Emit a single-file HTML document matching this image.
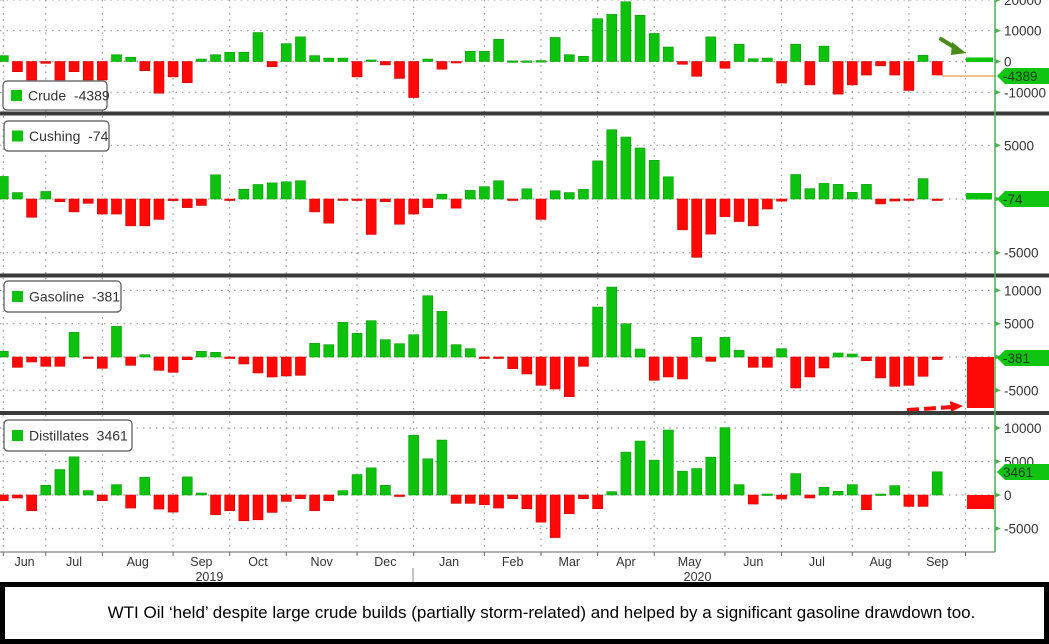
<!DOCTYPE html>
<html><head><meta charset="utf-8">
<style>
html,body{margin:0;padding:0;background:#fff;}
body{width:1049px;height:644px;overflow:hidden;position:relative;font-family:"Liberation Sans",Arial,sans-serif;}
#chart{position:absolute;left:0;top:0;}
.caption{position:absolute;left:0;top:582px;width:1049px;height:62px;box-sizing:border-box;border:5px solid #000;background:#fff;font-size:17px;color:#000;text-align:center;line-height:52px;padding-left:34px;white-space:nowrap;}
</style></head>
<body>
<svg id="chart" width="1049" height="582" xmlns="http://www.w3.org/2000/svg" font-family="Liberation Sans, Arial, sans-serif"></svg>
<div class="caption">WTI Oil ‘held’ despite large crude builds (partially storm-related) and helped by a significant gasoline drawdown too.</div>
<script>
const crude = [1900,-3300,-6000,-600,-6000,-3300,-6000,-6000,2200,1400,-3000,-10300,-5000,-6900,800,2200,3000,3000,9400,-1700,5800,8000,1900,1100,1100,-5000,500,-1100,-5500,-11700,800,-2500,-300,3300,3300,7200,200,200,300,7800,2200,1700,13900,15300,19400,15000,9100,4700,-900,-4800,8000,-2200,5600,900,1100,-7000,5600,-7600,5000,-10600,-7600,-4400,-1400,-4400,-9400,2000,-4389];
const cushing = [2100,600,-1700,700,-250,-1200,-400,-1400,-1400,-2500,-2500,-1900,-150,-800,-600,2250,-100,900,1350,1500,1600,1700,-1200,-2250,-50,-100,-3300,-250,-2350,-1400,-800,450,-850,800,1150,1700,-50,950,-1900,770,600,900,3550,6450,5770,4750,3600,2070,-2870,-5430,-3270,-1640,-2100,-2500,-930,-200,2280,960,1450,1360,620,1360,-460,-190,-30,1900,-74];
const gasoline = [850,-1550,-750,-1400,-1400,3700,-50,-1700,4600,-1250,350,-2000,-2300,-400,850,700,-50,-1050,-2400,-3000,-2850,-2750,2050,1850,5200,3550,5450,2600,2000,3350,9200,6850,1850,1250,-100,-100,-1750,-2550,-4250,-4800,-5950,-1400,7500,10500,5000,1200,-3500,-3000,-3300,2950,-650,2950,1000,-1550,-1550,1250,-4650,-3000,-1650,600,450,-550,-3150,-4400,-4250,-2900,-381];
const distillates = [-850,-450,-2350,1450,3800,5700,650,-850,1550,-1950,2650,-2100,-2550,2700,300,-2950,-2350,-3850,-3700,-2600,-950,-550,-2350,-850,650,3050,4050,1450,-150,8900,5400,8200,-1250,-1250,-1450,-1950,-550,-2050,-4050,-6350,-2800,-550,-2050,500,6400,8050,5200,9700,3550,3950,5650,10050,1550,-1350,150,-600,3200,-450,1150,550,1550,-2200,150,1400,-1700,-1700,3461];
const monthLabels = ["Jun","Jul","Aug","Sep","Oct","Nov","Dec","Jan","Feb","Mar","Apr","May","Jun","Jul","Aug","Sep"];
const monthStarts = [0,3,7,12,16,20,25,29,34,38,42,46,51,55,60,64,68];
const yearLabels = ["2019","2020"];
const yearAtMonth = [3,11];
const crudeTicks = [20000,10000,0,-10000];
const cushingTicks = [5000,0,-5000];
const gasTicks = [10000,5000,0,-5000];
const distTicks = [10000,5000,0,-5000];

const NS = "http://www.w3.org/2000/svg";
const svg = document.getElementById('chart');
function mk(tag, attrs, parent){const e=document.createElementNS(NS,tag);for(const k in attrs)e.setAttribute(k,attrs[k]);(parent||svg).appendChild(e);return e;}
function x(i){return 3.3 + i*14.15;}
function monthMid(k){return (x(monthStarts[k]) + x(monthStarts[k+1]))/2;}
const AXIS_X = 995, BW = 10;
const GREEN = "#0cc20c", RED = "#ff0808";

const panels = [
  {name:"crude", label:"Crude", data:crude, ticks:crudeTicks, zero:61.5, per:30.8/10000, top:0, bottom:112, legend:[3,81,104,29], tagY:76},
  {name:"cushing", label:"Cushing", data:cushing, ticks:cushingTicks, zero:199, per:53.7/5000, top:116, bottom:274, legend:[4,121,105,30], tagY:199},
  {name:"gasoline", label:"Gasoline", data:gasoline, ticks:gasTicks, zero:357, per:33.3/5000, top:278, bottom:411, legend:[4,281,117,31], tagY:358},
  {name:"distillates", label:"Distillates", data:distillates, ticks:distTicks, zero:495, per:33.5/5000, top:415, bottom:552, legend:[4,420,128,31], tagY:472}
];

panels.forEach(p=>{
  const y = v => p.zero - v*p.per;
  const g = mk('g',{});
  
  
  monthStarts.forEach(m=>{
    const gl = mk('line',{x1:x(m),x2:x(m),y1:p.top,y2:p.bottom,stroke:"#999","stroke-width":1.2,"stroke-dasharray":"1.5 5"},g);
    
    
  });
  p.ticks.forEach(t=>{
    const ty = y(t);
    const hl = mk('line',{x1:0,x2:AXIS_X,y1:ty,y2:ty,stroke:"#999","stroke-width":1.2,"stroke-dasharray":"1.5 5"},g);
    
    
    mk('polygon',{points:`${AXIS_X},${ty-2.5} ${AXIS_X+6},${ty} ${AXIS_X},${ty+2.5}`,fill:"#4caf50"},g);
    const tl = mk('text',{x:1004,y:ty+5,"font-size":13.5,fill:"#333"},g);
    tl.textContent = t;
    
    
  });
  p.data.forEach((v,i)=>{
    const y0 = y(0), y1 = y(v);
    const r = mk('rect',{x:x(i)-BW/2,y:Math.min(y0,y1),width:BW,height:Math.max(1.5,Math.abs(y1-y0)),fill:v>=0?GREEN:RED,stroke:v>=0?"#0a9a0a":"#d00000","stroke-width":0.6},g);
    
    
  });
  const [lx,ly,lw,lh] = p.legend;
  const lg = mk('g',{},g);
  
  
  mk('rect',{x:lx,y:ly,width:lw,height:lh,rx:4,fill:"#fff",stroke:"#555","stroke-width":1.2},lg);
  mk('rect',{x:lx+8,y:ly+lh/2-5.5,width:11,height:11,fill:GREEN},lg);
  const lt = mk('text',{x:lx+25,y:ly+lh/2+5,"font-size":14,fill:"#333"},lg);
  lt.textContent = p.label + "  " + p.data[p.data.length-1];
  lt.setAttribute('xml:space','preserve');
  lt.style.whiteSpace='pre';
  const tg = mk('g',{},g);
  
  
  const ty = p.tagY;
  mk('polygon',{points:`${AXIS_X+2},${ty} ${AXIS_X+10},${ty-8} 1049,${ty-8} 1049,${ty+8} ${AXIS_X+10},${ty+8}`,fill:"#12c412"},tg);
  const tt = mk('text',{x:1003,y:ty+5,"font-size":13.5,fill:"#1a3a1a"},tg);
  tt.textContent = p.data[p.data.length-1];
});

const ann = mk('g',{});


mk('line',{x1:x(66)+5,x2:AXIS_X,y1:76,y2:76,stroke:"#e0a050","stroke-width":1.2},ann);
mk('rect',{x:966,y:57.5,width:27,height:4.5,fill:GREEN},ann);
mk('line',{x1:941,y1:39,x2:957,y2:49,stroke:"#4a8a1a","stroke-width":4,"stroke-linecap":"round"},ann);
mk('polygon',{points:"952,42 966,53 951,55",fill:"#4a8a1a"},ann);
mk('rect',{x:966,y:193,width:26,height:6.5,fill:GREEN},ann);
mk('rect',{x:967,y:357,width:27,height:51,fill:RED},ann);
mk('line',{x1:907,y1:410,x2:953,y2:407,stroke:RED,"stroke-width":4,"stroke-dasharray":"12 5"},ann);
mk('polygon',{points:"950,401 963,406 951,412",fill:RED},ann);
mk('rect',{x:967,y:495,width:27,height:14,fill:RED},ann);

[[111.5,4],[273.5,4],[411,4]].forEach(s=>{
  const r = mk('rect',{x:0,y:s[0],width:1049,height:s[1],fill:"#3a3a3a"});
  
  
});
const ax = mk('line',{x1:AXIS_X,x2:AXIS_X,y1:0,y2:552,stroke:"#4caf50","stroke-width":1.5});


const xa = mk('line',{x1:0,x2:AXIS_X,y1:552,y2:552,stroke:"#666","stroke-width":1});


monthStarts.forEach(m=>{ mk('line',{x1:x(m),x2:x(m),y1:552,y2:556,stroke:"#666"}); });
monthLabels.forEach((lab,k)=>{
  const t = mk('text',{x:monthMid(k),y:566,"font-size":12.5,"text-anchor":"middle",fill:"#333"});
  t.textContent = lab;
  
  
});
yearLabels.forEach((yl,k)=>{
  const t = mk('text',{x:monthMid(yearAtMonth[k])+8,y:581,"font-size":12.5,"text-anchor":"middle",fill:"#333"});
  t.textContent = yl;
  
  
});
mk('line',{x1:413,x2:413,y1:568,y2:582,stroke:"#888"});
</script>
</body></html>
